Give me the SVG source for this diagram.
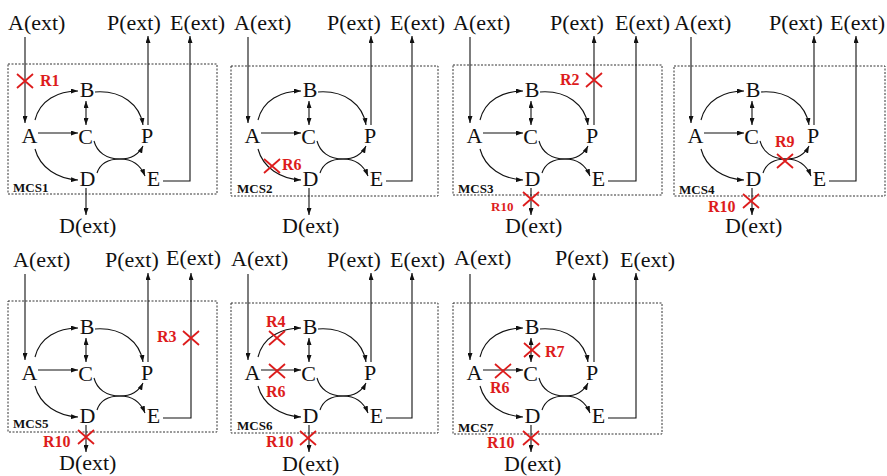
<svg xmlns="http://www.w3.org/2000/svg" width="887" height="476" viewBox="0 0 887 476">
<defs>
<marker id="ah" viewBox="0 0 7 5" refX="7" refY="2.5" markerWidth="7" markerHeight="5" markerUnits="userSpaceOnUse" orient="auto-start-reverse"><path d="M0,0 L7,2.5 L0,5 z" fill="#111"/></marker>
</defs>
<style>
.n{font-family:"Liberation Serif","Times New Roman",serif;font-size:22px;fill:#111}
.m{text-anchor:middle}
.c path{fill:none;stroke:#111;stroke-width:1.1;marker-end:url(#ah)}
.c path.bi{marker-start:url(#ah)}
.box{fill:none;stroke:#333;stroke-width:1;stroke-dasharray:2 1.5}
.mcs{font-family:"Liberation Serif","Times New Roman",serif;font-weight:bold;font-size:13px;fill:#111}
.rl{font-family:"Liberation Serif","Times New Roman",serif;font-weight:bold;font-size:16px;fill:#dd1c1c}
.rs{font-size:13px}
.x{stroke:#dd1c1c;stroke-width:1.8;fill:none}
</style>

<!-- Panel 1 -->
<g id="mcs1" transform="translate(0,0)">
<rect class="box" x="8" y="64" width="209" height="130"/>
<text class="mcs" x="13" y="192">MCS1</text>
<g id="p1-Aext"><text class="n" x="8" y="30">A(ext)</text></g>
<g id="p1-Pext"><text class="n" x="107" y="30">P(ext)</text></g>
<g id="p1-Eext"><text class="n" x="170" y="30">E(ext)</text></g>
<g id="p1-Dext"><text class="n" x="59" y="233">D(ext)</text></g>
<g id="p1-A"><text class="n m" x="29.5" y="143">A</text></g>
<g id="p1-B"><text class="n m" x="87" y="97">B</text></g>
<g id="p1-C"><text class="n m" x="85.5" y="144">C</text></g>
<g id="p1-P"><text class="n m" x="147" y="143">P</text></g>
<g id="p1-D"><text class="n m" x="87.5" y="186">D</text></g>
<g id="p1-E"><text class="n m" x="153.5" y="186">E</text></g>
<g id="p1-edges" class="c">
<path d="M25,37V123"/><path d="M148,125V36"/><path d="M163,181H190V36"/><path d="M86,188V215"/>
<path d="M35,120C40,100 58,91 78,91"/><path d="M38,133H78"/><path d="M35,149C40,168 58,179 78,180"/>
<path class="bi" d="M86,101V125"/><path d="M95,92C122,90 140,105 143,125"/>
<path d="M94,141C97,152 106,159 120,159C133,159 141,166 145,176"/><path d="M97,173C100,164 108,159 120,159C132,159 139,154 143,146"/>
</g>
<g id="p1-cuts"><path class="x" d="M17,74L33,88M17,88L33,74"/><text class="rl" x="40" y="86">R1</text></g>
</g>

<!-- Panel 2 -->
<g id="mcs2" transform="translate(223,0)">
<rect class="box" x="8" y="66" width="207" height="130"/>
<text class="mcs" x="14" y="193">MCS2</text>
<g id="p2-Aext"><text class="n" x="11" y="30">A(ext)</text></g>
<g id="p2-Pext"><text class="n" x="104" y="30">P(ext)</text></g>
<g id="p2-Eext"><text class="n" x="167" y="30">E(ext)</text></g>
<g id="p2-Dext"><text class="n" x="59" y="233">D(ext)</text></g>
<g id="p2-A"><text class="n m" x="29.5" y="143">A</text></g>
<g id="p2-B"><text class="n m" x="87" y="97">B</text></g>
<g id="p2-C"><text class="n m" x="85.5" y="144">C</text></g>
<g id="p2-P"><text class="n m" x="147" y="143">P</text></g>
<g id="p2-D"><text class="n m" x="87.5" y="186">D</text></g>
<g id="p2-E"><text class="n m" x="153.5" y="186">E</text></g>
<g id="p2-edges" class="c">
<path d="M25,37V123"/><path d="M148,125V36"/><path d="M163,181H189V36"/><path d="M86,188V215"/>
<path d="M35,120C40,100 58,91 78,91"/><path d="M38,133H78"/><path d="M35,149C40,168 58,179 78,180"/>
<path class="bi" d="M86,101V125"/><path d="M95,92C122,90 140,105 143,125"/>
<path d="M94,141C97,152 106,159 120,159C133,159 141,166 145,176"/><path d="M97,173C100,164 108,159 120,159C132,159 139,154 143,146"/>
</g>
<g id="p2-cuts"><path class="x" d="M41,159L57,173M41,173L57,159"/><text class="rl" x="59" y="170">R6</text></g>
</g>

<!-- Panel 3 -->
<g id="mcs3" transform="translate(445,0)">
<rect class="box" x="8" y="65" width="209" height="130"/>
<text class="mcs" x="13" y="193">MCS3</text>
<g id="p3-Aext"><text class="n" x="8" y="30">A(ext)</text></g>
<g id="p3-Pext"><text class="n" x="105" y="30">P(ext)</text></g>
<g id="p3-Eext"><text class="n" x="170" y="30">E(ext)</text></g>
<g id="p3-Dext"><text class="n" x="60" y="233">D(ext)</text></g>
<g id="p3-A"><text class="n m" x="29.5" y="143">A</text></g>
<g id="p3-B"><text class="n m" x="87" y="97">B</text></g>
<g id="p3-C"><text class="n m" x="85.5" y="144">C</text></g>
<g id="p3-P"><text class="n m" x="147" y="143">P</text></g>
<g id="p3-D"><text class="n m" x="87.5" y="186">D</text></g>
<g id="p3-E"><text class="n m" x="153.5" y="186">E</text></g>
<g id="p3-edges" class="c">
<path d="M25,37V123"/><path d="M149,125V36"/><path d="M163,181H191V36"/><path d="M86,188V215"/>
<path d="M35,120C40,100 58,91 78,91"/><path d="M38,133H78"/><path d="M35,149C40,168 58,179 78,180"/>
<path class="bi" d="M86,101V125"/><path d="M95,92C122,90 140,105 143,125"/>
<path d="M94,141C97,152 106,159 120,159C133,159 141,166 145,176"/><path d="M97,173C100,164 108,159 120,159C132,159 139,154 143,146"/>
</g>
<g id="p3-cuts">
<path class="x" d="M141,73L157,87M141,87L157,73"/><text class="rl" x="115" y="85">R2</text>
<path class="x" d="M78,192L94,206M78,206L94,192"/><text class="rl rs" x="46" y="211">R10</text>
</g>
</g>

<!-- Panel 4 -->
<g id="mcs4" transform="translate(666,0)">
<rect class="box" x="8" y="66" width="211" height="130"/>
<text class="mcs" x="13" y="194">MCS4</text>
<g id="p4-Aext"><text class="n" x="8" y="30">A(ext)</text></g>
<g id="p4-Pext"><text class="n" x="103" y="30">P(ext)</text></g>
<g id="p4-Eext"><text class="n" x="164" y="30">E(ext)</text></g>
<g id="p4-Dext"><text class="n" x="59" y="233">D(ext)</text></g>
<g id="p4-A"><text class="n m" x="29.5" y="143">A</text></g>
<g id="p4-B"><text class="n m" x="87" y="97">B</text></g>
<g id="p4-C"><text class="n m" x="85.5" y="144">C</text></g>
<g id="p4-P"><text class="n m" x="147" y="143">P</text></g>
<g id="p4-D"><text class="n m" x="87.5" y="186">D</text></g>
<g id="p4-E"><text class="n m" x="153.5" y="186">E</text></g>
<g id="p4-edges" class="c">
<path d="M25,37V123"/><path d="M148,125V36"/><path d="M163,181H190V36"/><path d="M86,188V215"/>
<path d="M35,120C40,100 58,91 78,91"/><path d="M38,133H78"/><path d="M35,149C40,168 58,179 78,180"/>
<path class="bi" d="M86,101V125"/><path d="M95,92C122,90 140,105 143,125"/>
<path d="M94,141C97,152 106,159 120,159C133,159 141,166 145,176"/><path d="M97,173C100,164 108,159 120,159C132,159 139,154 143,146"/>
</g>
<g id="p4-cuts">
<path class="x" d="M111,154L127,168M111,168L127,154"/><text class="rl" x="109" y="147">R9</text>
<path class="x" d="M77,194L93,208M77,208L93,194"/><text class="rl" x="42" y="212">R10</text>
</g>
</g>

<!-- Panel 5 -->
<g id="mcs5" transform="translate(0,237)">
<rect class="box" x="8" y="64" width="209" height="131"/>
<text class="mcs" x="13" y="191">MCS5</text>
<g id="p5-Aext"><text class="n" x="13" y="30">A(ext)</text></g>
<g id="p5-Pext"><text class="n" x="105" y="30">P(ext)</text></g>
<g id="p5-Eext"><text class="n" x="166" y="28">E(ext)</text></g>
<g id="p5-Dext"><text class="n" x="59" y="233">D(ext)</text></g>
<g id="p5-A"><text class="n m" x="29.5" y="143">A</text></g>
<g id="p5-B"><text class="n m" x="87" y="97">B</text></g>
<g id="p5-C"><text class="n m" x="85.5" y="144">C</text></g>
<g id="p5-P"><text class="n m" x="147" y="143">P</text></g>
<g id="p5-D"><text class="n m" x="87.5" y="186">D</text></g>
<g id="p5-E"><text class="n m" x="153.5" y="186">E</text></g>
<g id="p5-edges" class="c">
<path d="M25,37V123"/><path d="M148,125V36"/><path d="M163,181H191V36"/><path d="M86,188V215"/>
<path d="M35,120C40,100 58,91 78,91"/><path d="M38,133H78"/><path d="M35,149C40,168 58,179 78,180"/>
<path class="bi" d="M86,101V125"/><path d="M95,92C122,90 140,105 143,125"/>
<path d="M94,141C97,152 106,159 120,159C133,159 141,166 145,176"/><path d="M97,173C100,164 108,159 120,159C132,159 139,154 143,146"/>
</g>
<g id="p5-cuts">
<path class="x" d="M183,94L199,108M183,108L199,94"/><text class="rl" x="157" y="105">R3</text>
<path class="x" d="M78,193L94,207M78,207L94,193"/><text class="rl" x="43" y="210">R10</text>
</g>
</g>

<!-- Panel 6 -->
<g id="mcs6" transform="translate(223,237)">
<rect class="box" x="8" y="66" width="207" height="130"/>
<text class="mcs" x="14" y="193">MCS6</text>
<g id="p6-Aext"><text class="n" x="8" y="29">A(ext)</text></g>
<g id="p6-Pext"><text class="n" x="104" y="30">P(ext)</text></g>
<g id="p6-Eext"><text class="n" x="167" y="30">E(ext)</text></g>
<g id="p6-Dext"><text class="n" x="59" y="234">D(ext)</text></g>
<g id="p6-A"><text class="n m" x="29.5" y="143">A</text></g>
<g id="p6-B"><text class="n m" x="87" y="97">B</text></g>
<g id="p6-C"><text class="n m" x="85.5" y="144">C</text></g>
<g id="p6-P"><text class="n m" x="147" y="143">P</text></g>
<g id="p6-D"><text class="n m" x="87.5" y="186">D</text></g>
<g id="p6-E"><text class="n m" x="153.5" y="186">E</text></g>
<g id="p6-edges" class="c">
<path d="M25,37V123"/><path d="M148,125V36"/><path d="M163,181H189V36"/><path d="M86,188V215"/>
<path d="M35,120C40,100 58,91 78,91"/><path d="M38,133H78"/><path d="M35,149C40,168 58,179 78,180"/>
<path class="bi" d="M86,101V125"/><path d="M95,92C122,90 140,105 143,125"/>
<path d="M94,141C97,152 106,159 120,159C133,159 141,166 145,176"/><path d="M97,173C100,164 108,159 120,159C132,159 139,154 143,146"/>
</g>
<g id="p6-cuts">
<path class="x" d="M46,94L62,108M46,108L62,94"/><text class="rl" x="43" y="90">R4</text>
<path class="x" d="M46,127L62,141M46,141L62,127"/><text class="rl" x="43" y="160">R6</text>
<path class="x" d="M77,194L93,208M77,208L93,194"/><text class="rl" x="43" y="210">R10</text>
</g>
</g>

<!-- Panel 7 -->
<g id="mcs7" transform="translate(445,237)">
<rect class="box" x="8" y="66" width="209" height="131"/>
<text class="mcs" x="13" y="195">MCS7</text>
<g id="p7-Aext"><text class="n" x="9" y="28">A(ext)</text></g>
<g id="p7-Pext"><text class="n" x="110" y="28">P(ext)</text></g>
<g id="p7-Eext"><text class="n" x="175" y="30">E(ext)</text></g>
<g id="p7-Dext"><text class="n" x="59" y="234">D(ext)</text></g>
<g id="p7-A"><text class="n m" x="29.5" y="143">A</text></g>
<g id="p7-B"><text class="n m" x="87" y="97">B</text></g>
<g id="p7-C"><text class="n m" x="85.5" y="144">C</text></g>
<g id="p7-P"><text class="n m" x="147" y="143">P</text></g>
<g id="p7-D"><text class="n m" x="87.5" y="186">D</text></g>
<g id="p7-E"><text class="n m" x="153.5" y="186">E</text></g>
<g id="p7-edges" class="c">
<path d="M25,37V123"/><path d="M149,125V36"/><path d="M163,181H191V36"/><path d="M86,188V215"/>
<path d="M35,120C40,100 58,91 78,91"/><path d="M38,133H78"/><path d="M35,149C40,168 58,179 78,180"/>
<path class="bi" d="M86,101V125"/><path d="M95,92C122,90 140,105 143,125"/>
<path d="M94,141C97,152 106,159 120,159C133,159 141,166 145,176"/><path d="M97,173C100,164 108,159 120,159C132,159 139,154 143,146"/>
</g>
<g id="p7-cuts">
<path class="x" d="M79,106L95,120M79,120L95,106"/><text class="rl" x="100" y="120">R7</text>
<path class="x" d="M50,127L66,141M50,141L66,127"/><text class="rl" x="45" y="156">R6</text>
<path class="x" d="M78,194L94,208M78,208L94,194"/><text class="rl" x="42" y="211">R10</text>
</g>
</g>
</svg>
